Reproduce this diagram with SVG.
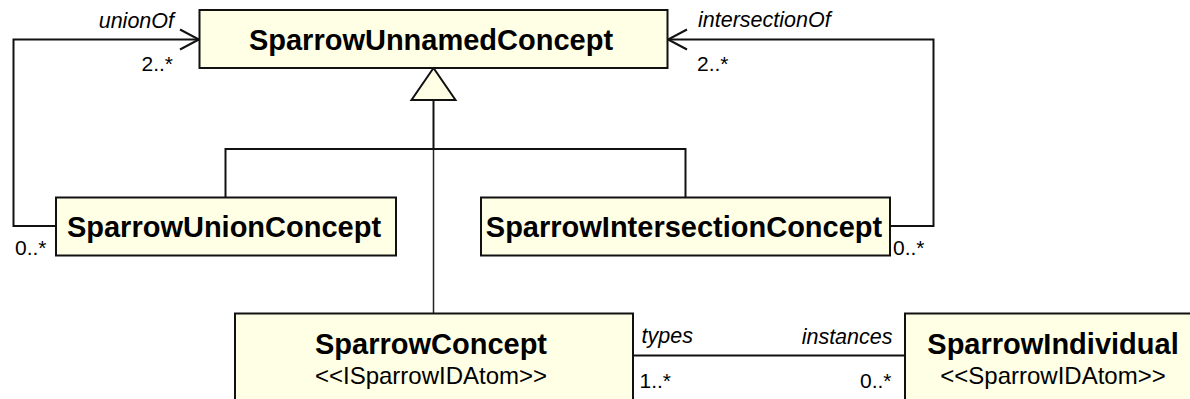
<svg xmlns="http://www.w3.org/2000/svg" width="1190" height="399" viewBox="0 0 1190 399">
<style>
.box{fill:#ffffe6;stroke:#111;stroke-width:2}
.ln{fill:none;stroke:#111;stroke-width:2}
.thin{fill:none;stroke:#222;stroke-width:1.5}
.name{font-family:"Liberation Sans",Arial,sans-serif;font-weight:bold;font-size:29px;fill:#000;text-anchor:middle}
.st{font-family:"Liberation Sans",Arial,sans-serif;font-size:24px;fill:#000;text-anchor:middle}
.role{font-family:"Liberation Sans",Arial,sans-serif;font-style:italic;font-size:21.5px;fill:#000}
.mul{font-family:"Liberation Sans",Arial,sans-serif;font-size:21px;fill:#000}
</style>
<rect width="1190" height="399" fill="#ffffff"/>
<g id="connectors">
  <polyline class="ln" points="56,226 13.5,226 13.5,39.5 199,39.5"/>
  <polyline class="ln" points="180,29.5 199,39.5 180,49.5"/>
  <polyline class="ln" points="890,226 933.5,226 933.5,39.5 668,39.5"/>
  <polyline class="ln" points="687,29.5 668,39.5 687,49.5"/>
  <line class="ln" x1="433.5" y1="100" x2="433.5" y2="149"/>
  <line class="thin" x1="433.5" y1="149" x2="433.5" y2="313"/>
  <polyline class="ln" points="225.5,197 225.5,149 685.5,149 685.5,197"/>
  <polygon points="433.5,68 411.5,100 455.5,100" fill="#ffffe6" stroke="#111" stroke-width="2"/>
  <line class="ln" x1="633" y1="355.5" x2="905" y2="355.5"/>
  <text class="role" x="174" y="28" text-anchor="end">unionOf</text>
  <text class="mul" x="173" y="71" text-anchor="end">2..*</text>
  <text class="role" x="698" y="27">intersectionOf</text>
  <text class="mul" x="697" y="71">2..*</text>
  <text class="mul" x="15" y="255">0..*</text>
  <text class="mul" x="893" y="255">0..*</text>
  <text class="role" x="641.5" y="343">types</text>
  <text class="mul" x="639.5" y="388">1..*</text>
  <text class="role" x="892.5" y="344" text-anchor="end">instances</text>
  <text class="mul" x="891.5" y="388" text-anchor="end">0..*</text>
</g>
<g id="SparrowUnnamedConcept">
  <rect class="box" x="199.5" y="10" width="468" height="58"/>
  <text class="name" x="431" y="49.5">SparrowUnnamedConcept</text>
</g>
<g id="SparrowUnionConcept">
  <rect class="box" x="56" y="197.5" width="340" height="58"/>
  <text class="name" x="224" y="236.5">SparrowUnionConcept</text>
</g>
<g id="SparrowIntersectionConcept">
  <rect class="box" x="481" y="197.5" width="409" height="58"/>
  <text class="name" x="684" y="236.5">SparrowIntersectionConcept</text>
</g>
<g id="SparrowConcept">
  <rect class="box" x="235" y="313.5" width="398" height="95"/>
  <text class="name" x="431" y="354">SparrowConcept</text>
  <text class="st" x="431" y="384">&lt;&lt;ISparrowIDAtom&gt;&gt;</text>
</g>
<g id="SparrowIndividual">
  <rect class="box" x="905" y="313.5" width="300" height="95"/>
  <text class="name" x="1053" y="353.5">SparrowIndividual</text>
  <text class="st" x="1053" y="384">&lt;&lt;SparrowIDAtom&gt;&gt;</text>
</g>
</svg>
